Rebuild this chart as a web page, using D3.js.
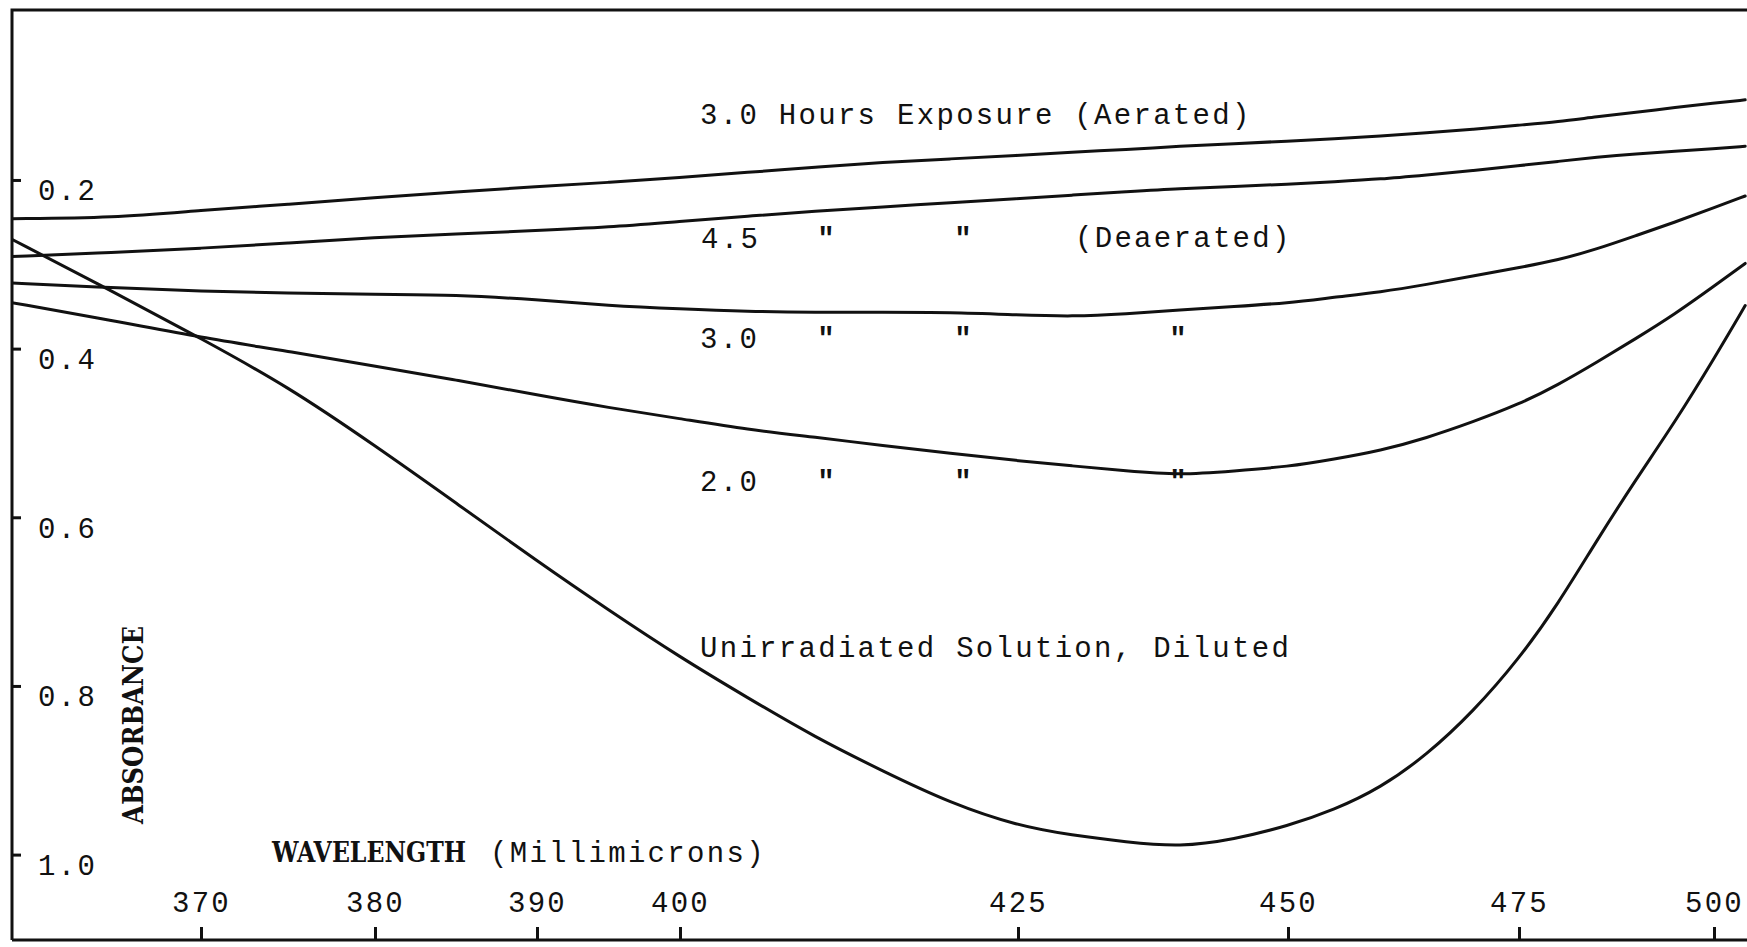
<!DOCTYPE html>
<html>
<head>
<meta charset="utf-8">
<script src="https://cdn.jsdelivr.net/npm/d3@7"></script>
<style>
  html, body { margin: 0; padding: 0; background: #fff; }
  svg { display: block; }
  .type { font-family: "Liberation Mono", "DejaVu Sans Mono", monospace; font-size: 29px; letter-spacing: 2.3px; fill: #111; }
  .heading { font-family: "DejaVu Serif", serif; font-weight: bold; font-size: 28px; fill: #111; }
</style>
</head>
<body>
<svg id="chart" width="1747" height="947"></svg>
<script>
// Wavelength samples, millimicrons
const wavelengths = [359, 365, 370, 375, 380, 385, 390, 395, 400, 405, 410, 415, 420, 425, 430,
                     435, 440, 445, 450, 455, 460, 465, 470, 475, 480, 485, 490, 495, 500, 504];

// Absorbance for each solution at the wavelengths above
const aerated30 = [0.246, 0.245, 0.236, 0.229, 0.221, 0.214, 0.208, 0.203, 0.197, 0.191, 0.185, 0.179, 0.175, 0.171, 0.167,
                   0.164, 0.160, 0.157, 0.154, 0.151, 0.148, 0.144, 0.140, 0.135, 0.131, 0.125, 0.120, 0.114, 0.109, 0.105];
const deaerated45 = [0.291, 0.286, 0.281, 0.275, 0.268, 0.264, 0.260, 0.256, 0.249, 0.243, 0.237, 0.232, 0.227, 0.222, 0.218,
                     0.214, 0.210, 0.208, 0.205, 0.202, 0.199, 0.194, 0.189, 0.183, 0.178, 0.173, 0.169, 0.166, 0.163, 0.160];
const deaerated30 = [0.322, 0.328, 0.332, 0.334, 0.336, 0.336, 0.342, 0.349, 0.353, 0.356, 0.357, 0.357, 0.357, 0.360, 0.362,
                     0.359, 0.354, 0.350, 0.346, 0.339, 0.333, 0.324, 0.314, 0.304, 0.295, 0.282, 0.266, 0.250, 0.233, 0.219];
const deaerated20 = [0.345, 0.367, 0.387, 0.403, 0.421, 0.437, 0.455, 0.470, 0.483, 0.496, 0.505, 0.515, 0.524, 0.533, 0.539,
                     0.545, 0.550, 0.545, 0.540, 0.531, 0.521, 0.506, 0.487, 0.466, 0.443, 0.416, 0.388, 0.359, 0.326, 0.299];
const unirradiated = [0.269, 0.333, 0.388, 0.445, 0.515, 0.583, 0.652, 0.710, 0.766, 0.814, 0.861, 0.901, 0.939, 0.966, 0.977,
                      0.985, 0.991, 0.982, 0.966, 0.947, 0.921, 0.882, 0.831, 0.768, 0.703, 0.627, 0.555, 0.487, 0.412, 0.349];

const xTicks = [370, 380, 390, 400, 425, 450, 475, 500];
const yTicks = [0.2, 0.4, 0.6, 0.8, 1.0];

const seriesList = [aerated30, deaerated45, deaerated30, deaerated20, unirradiated];

// ---- layout ----
const W = 1747, H = 947;
const frame = { left: 12, top: 10, right: W, bottom: 940 };
const ink = "#111";

// The chart paper is ruled on the spectrophotometer's non-uniform wavelength scale,
// so the x scale is piecewise linear through the ruled wavelengths.
const x = d3.scaleLinear()
  .domain(xTicks)
  .range([201, 375, 537, 680, 1018, 1288, 1519, 1714]);

// Absorbance grows downward on this chart.
const y = d3.scaleLinear().domain([0, 1]).range([11.3, 854.6]);

const svg = d3.select("#chart");
svg.append("rect").attr("width", W).attr("height", H).attr("fill", "#fff");

svg.append("clipPath").attr("id", "plot-clip")
  .append("rect")
  .attr("x", frame.left).attr("y", frame.top)
  .attr("width", frame.right - frame.left).attr("height", frame.bottom - frame.top);

// ---- frame ----
svg.append("path")
  .attr("d", `M${frame.left},${frame.bottom}V${frame.top}H${frame.right}M${frame.left},${frame.bottom}H${frame.right}`)
  .attr("fill", "none").attr("stroke", ink).attr("stroke-width", 3);

// ---- axes ----
const yAxis = svg.append("g")
  .attr("transform", `translate(${frame.left},0)`)
  .call(d3.axisRight(y).tickValues(yTicks).tickSize(9).tickPadding(17).tickFormat(d3.format(".1f")));

const xAxis = svg.append("g")
  .attr("transform", `translate(0,${frame.bottom})`)
  .call(d3.axisTop(x).tickValues(xTicks).tickSize(13).tickPadding(15).tickFormat(d3.format("d")));

[yAxis, xAxis].forEach(g => {
  g.attr("font-size", null).attr("font-family", null);
  g.select(".domain").remove();
  g.selectAll(".tick line").attr("stroke", ink).attr("stroke-width", 3);
  g.selectAll(".tick text").attr("class", "type").attr("fill", null);
});
yAxis.selectAll(".tick text").attr("dy", "0.69em");

// ---- curves ----
const line = d3.line()
  .x((d, i) => x(wavelengths[i]))
  .y(d => y(d))
  .curve(d3.curveBasis);

svg.append("g")
  .attr("clip-path", "url(#plot-clip)")
  .selectAll("path")
  .data(seriesList)
  .join("path")
  .attr("d", line)
  .attr("fill", "none")
  .attr("stroke", ink)
  .attr("stroke-width", 3)
  .attr("stroke-linejoin", "round")
  .attr("stroke-linecap", "round");

// ---- curve captions ----
const captions = [
  { text: "3.0 Hours Exposure (Aerated)", x: 700, y: 124 },
  { text: "4.5", x: 701, y: 248 },
  { text: "(Deaerated)", x: 1075, y: 247 },
  { text: "3.0", x: 700, y: 348 },
  { text: "2.0", x: 700, y: 491 },
  { text: "Unirradiated Solution, Diluted", x: 700, y: 657 }
];
svg.append("g").selectAll("text")
  .data(captions)
  .join("text")
  .attr("class", "type")
  .attr("x", d => d.x).attr("y", d => d.y)
  .text(d => d.text);

// ditto marks repeating "Hours Exposure" and "(Deaerated)"
const dittos = [
  { x: 826, y: 248 }, { x: 963, y: 248 },
  { x: 826, y: 348 }, { x: 963, y: 348 }, { x: 1178, y: 348 },
  { x: 826, y: 491 }, { x: 963, y: 491 }, { x: 1178, y: 491 }
];
svg.append("g").selectAll("text")
  .data(dittos)
  .join("text")
  .attr("class", "type")
  .attr("text-anchor", "middle")
  .style("letter-spacing", "0px")
  .style("font-weight", "bold")
  .attr("x", d => d.x).attr("y", d => d.y)
  .text('"');

// ---- axis titles ----
svg.append("text")
  .attr("class", "heading")
  .attr("x", 272).attr("y", 862)
  .attr("textLength", 194).attr("lengthAdjust", "spacingAndGlyphs")
  .text("WAVELENGTH");
svg.append("text")
  .attr("class", "type")
  .attr("x", 490).attr("y", 862)
  .text("(Millimicrons)");

svg.append("text")
  .attr("class", "heading")
  .attr("text-anchor", "middle")
  .attr("transform", "translate(143,725) rotate(-90)")
  .attr("textLength", 198).attr("lengthAdjust", "spacingAndGlyphs")
  .text("ABSORBANCE");
</script>
</body>
</html>
